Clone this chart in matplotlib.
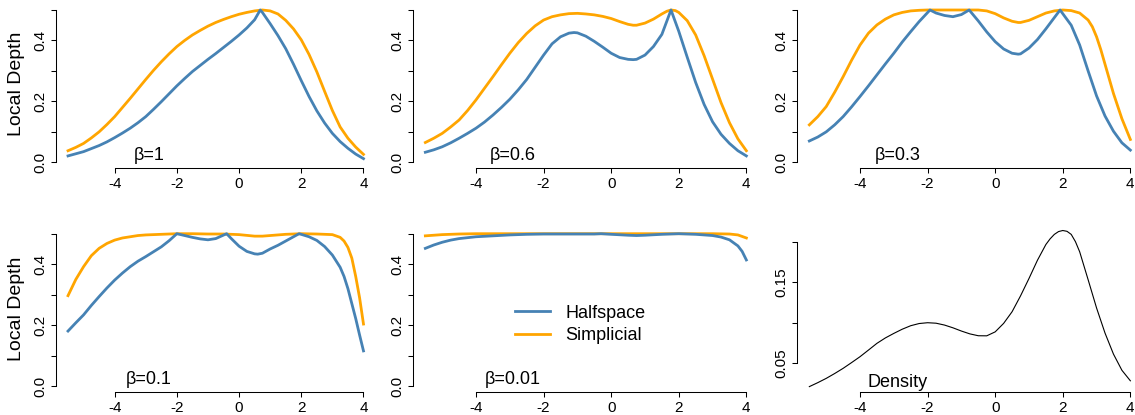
import matplotlib
matplotlib.use("Agg")
import matplotlib.pyplot as plt

plt.rcParams['font.family'] = ['Liberation Sans', 'DejaVu Sans']
plt.rcParams['axes.unicode_minus'] = False

# ---------------- data ----------------
betas = ["β=1", "β=0.6", "β=0.3", "β=0.1", "β=0.01"]

h1_x = [-5.5, -5.25, -5, -4.75, -4.5, -4.25, -4, -3.75, -3.5, -3.25, -3, -2.75, -2.5, -2.25, -2, -1.75, -1.5, -1.25,
        -1, -0.75, -0.5, -0.25, 0, 0.25, 0.5, 0.68, 0.75, 1, 1.25, 1.5, 1.75, 2, 2.25, 2.5, 2.75, 3, 3.25, 3.5, 3.75, 4]
h1_y = [0.021, 0.028, 0.035, 0.045, 0.055, 0.067, 0.081, 0.096, 0.112, 0.130, 0.150, 0.174, 0.199, 0.225, 0.251,
        0.275, 0.298, 0.318, 0.338, 0.357, 0.377, 0.397, 0.418, 0.441, 0.468, 0.500, 0.492, 0.455, 0.416, 0.373,
        0.322, 0.268, 0.216, 0.169, 0.129, 0.095, 0.068, 0.046, 0.027, 0.012]
s1_x = [-5.5, -5.25, -5, -4.75, -4.5, -4.25, -4, -3.75, -3.5, -3.25, -3, -2.75, -2.5, -2.25, -2, -1.75, -1.5, -1.25,
        -1, -0.75, -0.5, -0.25, 0, 0.25, 0.5, 0.75, 1, 1.25, 1.5, 1.75, 2, 2.25, 2.5, 2.75, 3, 3.25, 3.5, 3.75, 4]
s1_y = [0.038, 0.049, 0.062, 0.080, 0.100, 0.124, 0.150, 0.180, 0.210, 0.241, 0.272, 0.302, 0.330, 0.356, 0.380,
        0.400, 0.418, 0.433, 0.447, 0.459, 0.469, 0.478, 0.486, 0.492, 0.497, 0.500, 0.497, 0.487, 0.466, 0.438,
        0.402, 0.354, 0.297, 0.233, 0.170, 0.116, 0.079, 0.050, 0.026]

h2_x = [-5.5, -5.25, -5, -4.75, -4.5, -4.25, -4, -3.75, -3.5, -3.25, -3, -2.75, -2.5, -2.25, -2, -1.75, -1.5, -1.25,
        -1.1, -1, -0.75, -0.5, -0.25, 0, 0.25, 0.5, 0.65, 0.75, 1, 1.25, 1.5, 1.77, 2, 2.25, 2.5, 2.75, 3, 3.25, 3.5,
        3.75, 4]
h2_y = [0.033, 0.041, 0.051, 0.064, 0.079, 0.095, 0.112, 0.132, 0.155, 0.180, 0.207, 0.238, 0.272, 0.312, 0.352,
        0.389, 0.412, 0.424, 0.426, 0.425, 0.414, 0.397, 0.378, 0.358, 0.344, 0.338, 0.337, 0.338, 0.352, 0.380,
        0.420, 0.500, 0.430, 0.345, 0.262, 0.190, 0.133, 0.092, 0.062, 0.038, 0.021]
s2_x = [-5.5, -5.25, -5, -4.75, -4.5, -4.25, -4, -3.75, -3.5, -3.25, -3, -2.75, -2.5, -2.25, -2, -1.75, -1.5, -1.25,
        -1, -0.75, -0.5, -0.25, 0, 0.25, 0.5, 0.65, 0.75, 1, 1.25, 1.5, 1.65, 1.77, 1.9, 2, 2.25, 2.5, 2.75, 3, 3.25,
        3.5, 3.75, 4]
s2_y = [0.065, 0.079, 0.095, 0.116, 0.139, 0.170, 0.205, 0.243, 0.281, 0.320, 0.358, 0.393, 0.423, 0.448, 0.467,
        0.478, 0.484, 0.488, 0.489, 0.487, 0.484, 0.479, 0.472, 0.462, 0.453, 0.450, 0.450, 0.457, 0.470, 0.487,
        0.496, 0.500, 0.498, 0.492, 0.465, 0.418, 0.350, 0.273, 0.196, 0.130, 0.077, 0.038]

h3_x = [-5.5, -5.25, -5, -4.75, -4.5, -4.25, -4, -3.75, -3.5, -3.25, -3, -2.75, -2.5, -2.25, -1.93, -1.75, -1.5, -1.25,
        -1, -0.77, -0.5, -0.25, 0, 0.25, 0.5, 0.68, 0.75, 1, 1.25, 1.5, 1.75, 1.92, 2.25, 2.5, 2.75, 3, 3.25, 3.5, 3.75, 4]
h3_y = [0.070, 0.083, 0.100, 0.123, 0.150, 0.182, 0.216, 0.251, 0.287, 0.323, 0.358, 0.395, 0.429, 0.462, 0.500,
        0.490, 0.482, 0.478, 0.485, 0.500, 0.464, 0.428, 0.396, 0.372, 0.358, 0.355, 0.356, 0.375, 0.403, 0.438,
        0.475, 0.500, 0.450, 0.385, 0.300, 0.218, 0.152, 0.102, 0.064, 0.040]
s3_x = [-5.5, -5.25, -5, -4.75, -4.5, -4.25, -4, -3.75, -3.5, -3.25, -3, -2.75, -2.5, -2.25, -2, -1.5, -1, -0.5,
        -0.25, 0, 0.25, 0.5, 0.68, 0.75, 1, 1.25, 1.5, 1.75, 2, 2.25, 2.5, 2.75, 2.875, 3, 3.125, 3.25, 3.5, 3.75, 4]
s3_y = [0.123, 0.150, 0.183, 0.230, 0.281, 0.335, 0.385, 0.424, 0.451, 0.470, 0.484, 0.492, 0.497, 0.499, 0.500,
        0.500, 0.500, 0.500, 0.497, 0.488, 0.474, 0.463, 0.459, 0.459, 0.466, 0.478, 0.490, 0.497, 0.500, 0.498,
        0.490, 0.467, 0.445, 0.412, 0.370, 0.322, 0.226, 0.143, 0.075]

h4_x = [-5.5, -5.25, -5, -4.75, -4.5, -4.25, -4, -3.75, -3.5, -3.25, -3, -2.75, -2.5, -2.25, -2, -1.75, -1.5, -1.25,
        -1, -0.75, -0.4, -0.25, 0, 0.25, 0.5, 0.6, 0.75, 1, 1.25, 1.5, 1.75, 1.93, 2.25, 2.5, 2.75, 3, 3.25, 3.375,
        3.5, 3.75, 3.875, 4]
h4_y = [0.181, 0.208, 0.234, 0.265, 0.294, 0.322, 0.348, 0.371, 0.392, 0.410, 0.425, 0.441, 0.457, 0.477, 0.500,
        0.494, 0.488, 0.483, 0.480, 0.484, 0.500, 0.484, 0.459, 0.442, 0.434, 0.433, 0.436, 0.450, 0.462, 0.476,
        0.490, 0.500, 0.490, 0.478, 0.458, 0.430, 0.390, 0.360, 0.320, 0.222, 0.168, 0.116]
s4_x = [-5.5, -5.25, -5, -4.75, -4.5, -4.25, -4, -3.75, -3.5, -3.25, -3, -2.5, -2, -1.5, -1, -0.5, 0, 0.5, 0.75, 1,
        1.5, 2, 2.5, 3, 3.25, 3.375, 3.5, 3.625, 3.75, 3.875, 4]
s4_y = [0.297, 0.350, 0.392, 0.428, 0.452, 0.468, 0.479, 0.486, 0.490, 0.494, 0.496, 0.498, 0.500, 0.500, 0.499,
        0.499, 0.497, 0.492, 0.492, 0.494, 0.498, 0.500, 0.499, 0.497, 0.488, 0.476, 0.455, 0.420, 0.360, 0.290, 0.204]

h5_x = [-5.5, -5.25, -5, -4.75, -4.5, -4, -3.5, -3, -2.5, -2, -1.5, -1, -0.5, -0.3, 0, 0.5, 0.75, 1, 1.5, 2, 2.5, 3,
        3.25, 3.5, 3.75, 3.875, 4]
h5_y = [0.452, 0.463, 0.472, 0.479, 0.484, 0.490, 0.493, 0.496, 0.498, 0.499, 0.499, 0.499, 0.499, 0.500, 0.498,
        0.495, 0.494, 0.495, 0.498, 0.500, 0.498, 0.494, 0.489, 0.480, 0.460, 0.442, 0.414]
s5_x = [-5.5, -5, -4.5, -4, -3, -2, -1, 0, 1, 2, 3, 3.5, 3.75, 4]
s5_y = [0.493, 0.497, 0.499, 0.500, 0.500, 0.500, 0.500, 0.500, 0.500, 0.500, 0.500, 0.499, 0.496, 0.486]

dens_x = [-5.5, -5.25, -5, -4.75, -4.5, -4.25, -4, -3.75, -3.5, -3.25, -3, -2.75, -2.5, -2.25, -2, -1.75, -1.5,
          -1.25, -1, -0.75, -0.5, -0.25, 0, 0.25, 0.5, 0.75, 1, 1.25, 1.5, 1.625, 1.75, 1.875, 2.0, 2.125, 2.25,
          2.375, 2.5, 2.75, 3, 3.25, 3.5, 3.75, 4]
dens_y = [0.0208, 0.0257, 0.0310, 0.0370, 0.0434, 0.0505, 0.0578, 0.0660, 0.0743, 0.0810, 0.0866, 0.0918, 0.0961,
          0.0988, 0.0998, 0.0992, 0.0969, 0.0935, 0.0895, 0.0860, 0.0837, 0.0836, 0.0885, 0.0990, 0.1134, 0.1330,
          0.1545, 0.1770, 0.1965, 0.2035, 0.2090, 0.2125, 0.2138, 0.2128, 0.2090, 0.2000, 0.1875, 0.1530, 0.1180,
          0.0870, 0.0610, 0.0410, 0.0280]

halfspace = [(h1_x, h1_y), (h2_x, h2_y), (h3_x, h3_y), (h4_x, h4_y), (h5_x, h5_y)]
simplicial = [(s1_x, s1_y), (s2_x, s2_y), (s3_x, s3_y), (s4_x, s4_y), (s5_x, s5_y)]

# ---------------- layout ----------------
W, H = 1135, 415
fig = plt.figure(figsize=(W / 100, H / 100), dpi=100)

boxes = [(56.2, 3.9, 375.3, 168.4), (412.5, 3.9, 759.2, 168.4), (796.5, 3.9, 1143.2, 168.4),
         (56.2, 227.6, 375.3, 392.4), (412.5, 227.6, 759.2, 392.4), (796.5, 227.6, 1143.2, 392.4)]

BLUE = "#4682B4"
ORANGE = "#FFA500"


def make_ax(box):
    l, t, r, b = box
    ax = fig.add_axes([l / W, 1 - b / H, (r - l) / W, (b - t) / H])
    ax.set_xlim(-5.88, 4.38)
    for s in ("top", "right"):
        ax.spines[s].set_visible(False)
    for s in ("left", "bottom"):
        ax.spines[s].set_linewidth(0.75)
    ax.spines["bottom"].set_bounds(-4, 4)
    ax.set_xticks([-4, -2, 0, 2, 4])
    ax.set_xticklabels(["-4", "-2", "0", "2", "4"])
    ax.tick_params(direction="out", length=3.8, width=0.75, labelsize=11, pad=2.3)
    ax.tick_params(axis="y", labelrotation=90)
    return ax


axes = [make_ax(b) for b in boxes]

for i in range(5):
    ax = axes[i]
    ax.set_ylim(-0.02, 0.52)
    ax.spines["left"].set_bounds(0, 0.5)
    ax.set_yticks([0, 0.1, 0.2, 0.3, 0.4, 0.5])
    ax.set_yticklabels(["0.0", "", "0.2", "", "0.4", ""])
    hx, hy = halfspace[i]
    sx, sy = simplicial[i]
    lab_h = "Halfspace" if i == 4 else None
    lab_s = "Simplicial" if i == 4 else None
    ax.plot(sx, sy, color=ORANGE, lw=2.0, label=lab_s, zorder=2, solid_joinstyle="round")
    ax.plot(hx, hy, color=BLUE, lw=2.0, label=lab_h, zorder=3, solid_joinstyle="round")
    ax.text(-2.9, 0.008, betas[i], ha="center", va="baseline", fontsize=13)

ax6 = axes[5]
ax6.set_ylim(0.01365, 0.2174)
ax6.spines["left"].set_bounds(0.05, 0.20)
ax6.set_yticks([0.05, 0.10, 0.15, 0.20])
ax6.set_yticklabels(["0.05", "", "0.15", ""])
ax6.plot(dens_x, dens_y, color="black", lw=0.8, solid_joinstyle="round")
ax6.text(-2.9, 0.0207, "Density", ha="center", va="baseline", fontsize=13)

for ax in axes:
    for lab in ax.get_yticklabels():
        lab.set_va("center")

# legend in panel 5
ax5 = axes[4]
h_handles, h_labels = ax5.get_legend_handles_labels()
order = [h_labels.index("Halfspace"), h_labels.index("Simplicial")]
ax5.legend([h_handles[k] for k in order], [h_labels[k] for k in order],
           loc="center left", bbox_to_anchor=(515 / W, 1 - 324.5 / H), bbox_transform=fig.transFigure,
           frameon=False, fontsize=13, handlelength=1.94, handletextpad=0.85, borderpad=0,
           borderaxespad=0, labelspacing=0.3)

fig.text(16.7 / W, 1 - 84 / H, "Local Depth", rotation=90, ha="center", va="center", fontsize=14)
fig.text(16.7 / W, 1 - 308.5 / H, "Local Depth", rotation=90, ha="center", va="center", fontsize=14)

fig.savefig("out.png", dpi=100)
